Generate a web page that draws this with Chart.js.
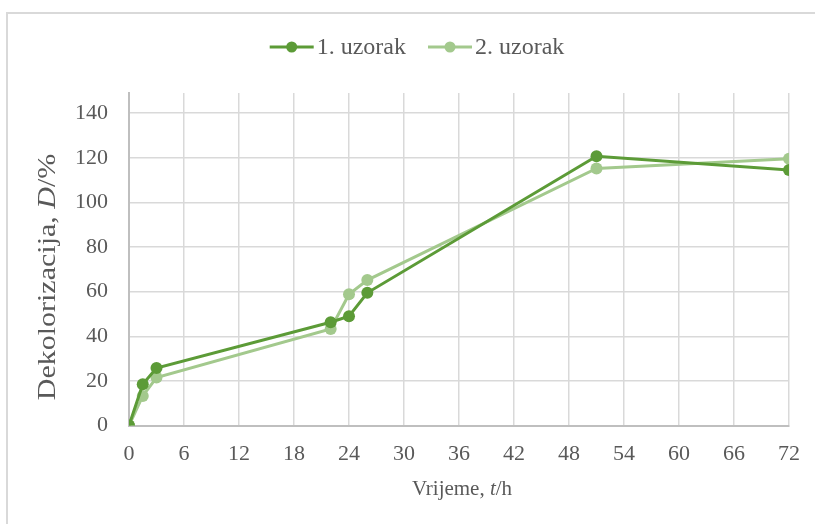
<!DOCTYPE html>
<html>
<head>
<meta charset="utf-8">
<script src="https://cdn.jsdelivr.net/npm/chart.js@4"></script>
<style>
  html, body { margin: 0; padding: 0; background: #fff; }
  #wrap { width: 815px; height: 524px; }
</style>
</head>
<body>
<div id="wrap"><canvas id="chart" width="815" height="524"></canvas></div>
<script>
// sampling times (h)
var times = [0, 1.5, 3, 22, 24, 26, 51, 72];
// decolorization D/% per sample
var uzorak1 = [0, 18.5, 25.8, 46.3, 49, 59.5, 120.7, 114.5];
var uzorak2 = [0, 13.3, 21.5, 43.3, 58.8, 65.2, 115.2, 119.5];
var seriesNames = ['1. uzorak', '2. uzorak'];
var yTicks = [0, 20, 40, 60, 80, 100, 120, 140];
// axis titles, split so the symbol can be italic
var xTitle = [['Vrijeme, ', false], ['t', true], ['/h', false]];
var yTitle = [['Dekolorizacija, ', false], ['D', true], ['/%', false]];

var darkGreen = '#5c9b37';
var lightGreen = '#a3c98d';
var textColor = '#595959';
var serif = "'Liberation Serif', 'Times New Roman', serif";

function toPoints(xs, ys) {
    return xs.map(function(x, i) { return {x: x, y: ys[i]}; });
}

function partsWidth(ctx, parts, size) {
    var w = 0;
    parts.forEach(function(p) {
        ctx.font = (p[1] ? 'italic ' : '') + size + 'px ' + serif;
        w += ctx.measureText(p[0]).width;
    });
    return w;
}

function drawParts(ctx, parts, size, x, y) {
    parts.forEach(function(p) {
        ctx.font = (p[1] ? 'italic ' : '') + size + 'px ' + serif;
        ctx.fillText(p[0], x, y);
        x += ctx.measureText(p[0]).width;
    });
}

// frame, legend and axis titles drawn like the Excel original
var decor = {
    id: 'decor',
    beforeDraw: function(chart) {
        var ctx = chart.ctx;
        ctx.save();
        ctx.strokeStyle = '#d9d9d9';
        ctx.lineWidth = 2;
        ctx.beginPath();
        ctx.moveTo(7, 524);
        ctx.lineTo(7, 13);
        ctx.lineTo(815, 13);
        ctx.stroke();
        ctx.restore();
    },
    afterDraw: function(chart) {
        var ctx = chart.ctx;
        var area = chart.chartArea;
        ctx.save();
        ctx.fillStyle = textColor;
        ctx.textBaseline = 'middle';
        ctx.textAlign = 'left';

        // legend
        var fs = 24, markW = 44, gap = 3, itemGap = 22, ly = 47;
        ctx.font = fs + 'px ' + serif;
        var widths = chart.data.datasets.map(function(d) {
            return markW + gap + ctx.measureText(d.label).width;
        });
        var total = widths[0] + widths[1] + itemGap;
        var lx = 417 - total / 2;
        chart.data.datasets.forEach(function(d, i) {
            ctx.strokeStyle = d.borderColor;
            ctx.lineWidth = 3;
            ctx.beginPath();
            ctx.moveTo(lx, ly);
            ctx.lineTo(lx + markW, ly);
            ctx.stroke();
            ctx.fillStyle = d.borderColor;
            ctx.beginPath();
            ctx.arc(lx + markW / 2, ly, 5.5, 0, Math.PI * 2);
            ctx.fill();
            ctx.fillStyle = textColor;
            ctx.font = fs + 'px ' + serif;
            ctx.fillText(d.label, lx + markW + gap, ly + 1);
            lx += widths[i] + itemGap;
        });

        // x title
        var xs = 21;
        var xw = partsWidth(ctx, xTitle, xs);
        drawParts(ctx, xTitle, xs, (area.left + area.right) / 2 - xw / 2 + 3, 489);

        // y title
        var ys = 30;
        var yw = partsWidth(ctx, yTitle, ys);
        ctx.translate(48, 277);
        ctx.scale(0.85, 1);
        ctx.rotate(-Math.PI / 2);
        drawParts(ctx, yTitle, ys, -yw / 2, 0);
        ctx.restore();
    }
};

var ctx = document.getElementById('chart').getContext('2d');
var chart = new Chart(ctx, {
    type: 'line',
    data: {
        datasets: [
            {
                label: seriesNames[0],
                data: toPoints(times, uzorak1),
                borderColor: darkGreen,
                backgroundColor: darkGreen,
                borderWidth: 3,
                pointRadius: 6,
                pointHoverRadius: 6,
                pointBorderWidth: 0,
                tension: 0
            },
            {
                label: seriesNames[1],
                data: toPoints(times, uzorak2),
                borderColor: lightGreen,
                backgroundColor: lightGreen,
                borderWidth: 3,
                pointRadius: 6,
                pointHoverRadius: 6,
                pointBorderWidth: 0,
                tension: 0
            }
        ]
    },
    options: {
        responsive: false,
        animation: false,
        layout: { padding: { top: 93, left: 54, right: 25, bottom: 42 } },
        plugins: {
            tooltip: { enabled: false },
            legend: { display: false }
        },
        scales: {
            x: {
                type: 'linear',
                min: 0,
                max: 72,
                ticks: {
                    stepSize: 6,
                    color: textColor,
                    font: { family: serif, size: 22 },
                    padding: 15
                },
                grid: { color: '#d9d9d9', lineWidth: 1.5, drawTicks: false },
                border: { color: '#bfbfbf', width: 2 }
            },
            y: {
                min: 0,
                max: 149,
                afterBuildTicks: function(axis) {
                    axis.ticks = yTicks.map(function(v) { return {value: v}; });
                },
                ticks: {
                    color: textColor,
                    font: { family: serif, size: 22 },
                    padding: 21
                },
                grid: { color: '#d9d9d9', lineWidth: 1.5, drawTicks: false },
                border: { color: '#bfbfbf', width: 2 }
            }
        }
    },
    plugins: [decor]
});
</script>
</body>
</html>
